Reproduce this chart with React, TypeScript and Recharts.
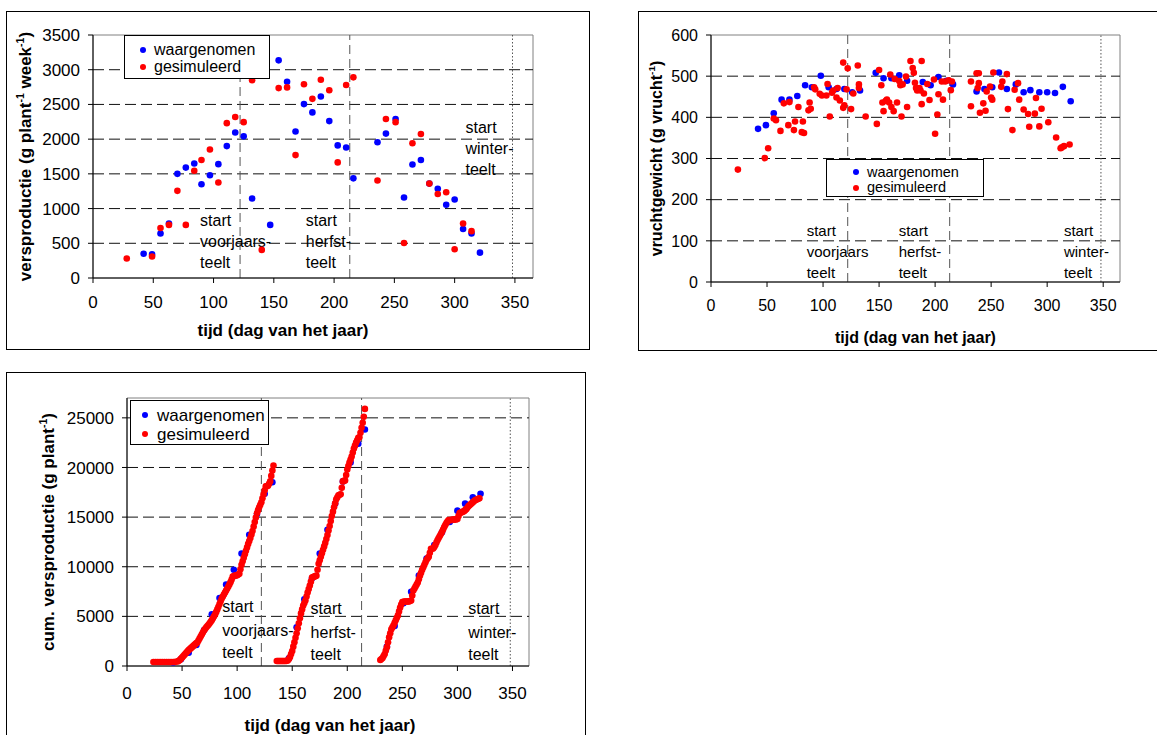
import React from 'react';
import { ScatterChart, Scatter, XAxis, YAxis, ReferenceLine, ReferenceArea } from 'recharts';

const FONT = '"Liberation Sans", Arial, Helvetica, sans-serif';
const BLUE = '#0000ff';
const RED = '#ff0000';

// shared axis ticks
const dayTicks = [0, 50, 100, 150, 200, 250, 300, 350];
const productionTicks = [0, 500, 1000, 1500, 2000, 2500, 3000, 3500];
const productionGrid = [500, 1000, 1500, 2000, 2500, 3000];
const weightTicks = [0, 100, 200, 300, 400, 500, 600];
const weightGrid = [100, 200, 300, 400, 500];
const cumulativeTicks = [0, 5000, 10000, 15000, 20000, 25000];
const cumulativeGrid = [5000, 10000, 15000, 20000, 25000];

// start of the growing seasons (day of year)
const seasonStarts = [122, 213];
const winterStart = 348;

// weekly production (g plant-1 week-1)
const prodObsDays = [42, 49, 56, 63, 70, 77, 84, 90, 97, 104, 111, 118, 125, 132, 147, 154, 161, 168, 175, 182, 189, 196, 203, 210, 216, 236, 243, 251, 258, 265, 272, 279, 286, 293, 300, 307, 314, 321];
const prodObsValues = [350, 340, 640, 785, 1500, 1590, 1650, 1350, 1480, 1640, 1900, 2095, 2040, 1145, 765, 3135, 2825, 2110, 2505, 2385, 2615, 2260, 1910, 1880, 1435, 1955, 2080, 2290, 1160, 1635, 1700, 1360, 1285, 1055, 1130, 705, 640, 365];
const prodSimDays = [28, 49, 56, 63, 70, 77, 84, 90, 97, 104, 111, 118, 125, 132, 140, 154, 161, 168, 175, 182, 189, 196, 203, 210, 216, 236, 243, 251, 258, 265, 272, 279, 286, 293, 300, 307, 314];
const prodSimValues = [280, 310, 720, 765, 1255, 765, 1545, 1700, 1850, 1375, 2230, 2320, 2245, 2850, 405, 2735, 2745, 1770, 2790, 2580, 2855, 2705, 1665, 2780, 2890, 1405, 2290, 2245, 505, 1940, 2075, 1360, 1210, 1235, 415, 785, 675];

// fruit weight (g vrucht-1)
const weightObsDays = [42, 49, 56, 63, 70, 77, 84, 90, 98, 105, 112, 119, 126, 133, 147, 154, 161, 168, 175, 189, 196, 203, 210, 216, 237, 244, 251, 257, 264, 272, 279, 285, 293, 300, 307, 314, 321];
const weightObsValues = [372, 381, 410, 443, 443, 452, 478, 473, 501, 473, 469, 469, 461, 465, 508, 495, 495, 502, 489, 486, 478, 498, 489, 480, 463, 469, 473, 509, 469, 480, 461, 466, 461, 461, 459, 474, 439];
const weightSimDays = [24, 48, 51, 56, 58, 62, 65, 69, 70, 74, 75, 78, 81, 82, 83, 87, 88, 89, 92, 93, 97, 99, 103, 104, 106, 108, 109, 112, 113, 115, 118, 118, 119, 121, 122, 125, 127, 131, 132, 132, 138, 148, 150, 152, 153, 154, 156, 157, 159, 160, 161, 163, 164, 166, 168, 169, 170, 171, 174, 175, 178, 180, 181, 182, 183, 184, 186, 187, 188, 188, 190, 193, 195, 199, 200, 202, 203, 206, 207, 209, 212, 214, 215, 232, 232, 237, 238, 239, 239, 240, 243, 245, 246, 249, 250, 251, 252, 259, 260, 264, 265, 269, 271, 274, 275, 279, 283, 284, 289, 290, 293, 295, 301, 308, 312, 313, 315, 320];
const weightSimValues = [273, 301, 325, 397, 393, 367, 434, 381, 437, 369, 390, 425, 364, 390, 362, 417, 436, 421, 473, 468, 457, 453, 453, 481, 402, 460, 465, 448, 471, 441, 533, 423, 429, 468, 519, 420, 458, 526, 480, 471, 402, 384, 515, 478, 436, 415, 440, 443, 436, 504, 425, 415, 493, 436, 488, 478, 402, 480, 499, 425, 537, 520, 508, 484, 471, 465, 471, 465, 537, 432, 458, 481, 442, 492, 360, 407, 456, 487, 443, 487, 490, 466, 487, 487, 427, 507, 471, 507, 483, 411, 434, 416, 463, 475, 448, 443, 509, 474, 487, 505, 420, 369, 467, 483, 443, 419, 408, 377, 409, 447, 378, 421, 388, 351, 325, 327, 330, 334];

// cumulative production (g plant-1)
const cumObsDays = [42, 49, 56, 63, 70, 77, 84, 90, 97, 104, 111, 118, 125, 132, 147, 154, 161, 168, 175, 182, 189, 196, 203, 210, 216, 236, 243, 251, 258, 265, 272, 279, 286, 293, 300, 307, 314, 321];
const cumObsValues = [350, 690, 1330, 2115, 3615, 5205, 6855, 8205, 9685, 11325, 13225, 15320, 17360, 18505, 765, 3900, 6725, 8835, 11340, 13725, 16340, 18600, 20510, 22390, 23825, 1955, 4035, 6325, 7485, 9120, 10820, 12180, 13465, 14520, 15650, 16355, 16995, 17360];

const cumSimDaysSpring = [24, 26, 28, 30, 32, 34, 36, 38, 40, 42, 44, 46, 47, 48, 49, 50, 51, 52, 53, 54, 55, 56, 57, 58, 59, 60, 61, 62, 63, 64, 65, 66, 67, 68, 69, 70, 71, 72, 73, 74, 75, 76, 77, 78, 79, 80, 81, 82, 83, 84, 85, 86, 87, 88, 89, 90, 91, 92, 93, 94, 95, 96, 97, 98, 99, 100, 101, 102, 103, 104, 105, 106, 107, 108, 109, 110, 111, 112, 113, 114, 115, 116, 117, 118, 119, 120, 121, 122, 123, 124, 125, 126, 127, 128, 129, 130, 131, 132, 133];
const cumSimValuesSpring = [400, 400, 400, 400, 400, 400, 400, 400, 400, 400, 420, 450, 520, 600, 720, 850, 980, 1100, 1230, 1350, 1480, 1600, 1700, 1800, 1900, 2000, 2100, 2200, 2300, 2400, 2600, 2800, 3000, 3200, 3400, 3600, 3750, 3900, 4020, 4150, 4300, 4450, 4620, 4800, 5000, 5200, 5450, 5700, 5970, 6250, 6520, 6800, 7000, 7200, 7400, 7600, 7800, 8000, 8220, 8450, 8720, 9000, 9050, 9100, 9120, 9150, 9220, 9300, 9750, 10200, 10550, 10900, 11250, 11600, 11950, 12300, 12600, 12900, 13250, 13600, 14050, 14500, 14950, 15400, 15700, 16000, 16250, 16500, 16900, 17300, 17700, 18100, 18120, 18150, 18350, 18600, 19150, 19700, 20200];

const cumSimDaysAutumn = [136, 137, 138, 139, 140, 141, 142, 143, 144, 145, 146, 147, 148, 149, 150, 151, 152, 153, 154, 155, 156, 157, 158, 159, 160, 161, 162, 163, 164, 165, 166, 167, 168, 169, 170, 171, 172, 173, 174, 175, 176, 177, 178, 179, 180, 181, 182, 183, 184, 185, 186, 187, 188, 189, 190, 191, 192, 193, 194, 195, 196, 197, 198, 199, 200, 201, 202, 203, 204, 205, 206, 207, 208, 209, 210, 211, 212, 213, 214, 215, 216];
const cumSimValuesAutumn = [500, 500, 500, 500, 500, 500, 500, 500, 500, 520, 550, 700, 900, 1200, 1500, 1950, 2400, 2850, 3300, 3800, 4300, 4800, 5300, 5700, 6100, 6350, 6600, 7000, 7400, 7750, 8100, 8500, 8900, 8950, 9000, 9050, 9100, 9700, 10300, 10650, 11000, 11350, 11700, 12050, 12400, 12800, 13200, 13650, 14100, 14600, 15100, 15550, 16000, 16400, 16800, 17000, 17200, 17250, 17300, 17950, 18600, 18650, 18700, 19250, 19800, 20150, 20500, 20800, 21100, 21500, 21900, 22200, 22500, 22750, 23000, 23050, 23500, 24000, 24500, 25100, 25900];

const cumSimDaysWinter = [230, 231, 232, 233, 234, 235, 236, 237, 238, 239, 240, 241, 242, 243, 244, 245, 246, 247, 248, 249, 250, 251, 252, 253, 254, 255, 256, 257, 258, 259, 260, 261, 262, 263, 264, 265, 266, 267, 268, 269, 270, 271, 272, 273, 274, 275, 276, 277, 278, 279, 280, 281, 282, 283, 284, 285, 286, 287, 288, 289, 290, 291, 292, 293, 294, 295, 296, 297, 298, 299, 300, 301, 302, 303, 304, 305, 306, 307, 308, 309, 310, 311, 312, 313, 314, 315, 316, 317, 318, 319, 320];
const cumSimValuesWinter = [600, 700, 800, 1000, 1200, 1550, 1900, 2400, 2900, 3300, 3700, 3900, 4100, 4350, 4600, 4850, 5100, 5500, 5900, 6200, 6450, 6480, 6500, 6500, 6500, 6500, 6500, 6550, 6600, 7100, 7600, 7800, 8000, 8200, 8400, 8750, 9100, 9400, 9700, 9950, 10200, 10450, 10700, 10850, 11000, 11400, 11800, 11820, 11850, 12000, 12200, 12450, 12700, 12900, 13100, 13300, 13500, 13750, 14000, 14200, 14400, 14550, 14700, 14700, 14700, 14720, 14750, 14750, 14750, 14780, 14800, 15100, 15400, 15450, 15500, 15550, 15600, 15700, 15800, 15950, 16100, 16200, 16300, 16400, 16500, 16600, 16700, 16750, 16800, 16850, 16900];

const toPoints = (days: number[], values: number[]) => days.map((d, i) => ({ x: d, y: values[i] }));

const dot = (color: string) => (props: any) =>
  props.cx == null ? <g /> : <circle cx={props.cx} cy={props.cy} r={3.3} fill={color} />;

const seasonText = (lines: string[], dx: number, rows: number[], fontSize: number) => (props: any) => {
  const vb = props.viewBox || {};
  const x = (vb.x || 0) + dx;
  const bottom = (vb.y || 0) + (vb.height || 0);
  return (
    <text fontFamily={FONT} fontSize={fontSize} fill="#000">
      {lines.map((s, i) => (
        <tspan key={i} x={x} y={bottom + rows[i] + fontSize * 0.35}>
          {s}
        </tspan>
      ))}
    </text>
  );
};

const xTitle = (dx: number, dy: number, fontSize: number) => (props: any) => {
  const vb = props.viewBox || {};
  const cx = (vb.x || 0) + (vb.width || 0) / 2 + dx;
  const cy = (vb.y || 0) + dy;
  return (
    <text x={cx} y={cy + fontSize * 0.35} textAnchor="middle" fontFamily={FONT} fontSize={fontSize} fontWeight="bold" fill="#000">
      tijd (dag van het jaar)
    </text>
  );
};

// parts: [text, isSuperscript]
const yTitle = (parts: [string, boolean][], dx: number, fontSize: number) => (props: any) => {
  const vb = props.viewBox || {};
  const cx = (vb.x || 0) + dx;
  const cy = (vb.y || 0) + (vb.height || 0) / 2;
  const shift = fontSize * 0.4;
  let raised = false;
  return (
    <text
      x={cx}
      y={cy + fontSize * 0.35}
      transform={`rotate(-90, ${cx}, ${cy})`}
      textAnchor="middle"
      fontFamily={FONT}
      fontSize={fontSize}
      fontWeight="bold"
      fill="#000"
    >
      {parts.map(([t, sup], i) => {
        let dy = 0;
        if (sup && !raised) dy = -shift;
        if (!sup && raised) dy = shift;
        raised = sup;
        return (
          <tspan key={i} dy={dy} fontSize={sup ? fontSize * 0.62 : fontSize}>
            {t}
          </tspan>
        );
      })}
    </text>
  );
};

function LegendBox({ left, top, width, height, rows, dotX, textX, fontSize }: any) {
  const items = [
    { label: 'waargenomen', color: BLUE },
    { label: 'gesimuleerd', color: RED },
  ];
  const h = Math.round(fontSize * 0.9);
  return (
    <div
      style={{
        position: 'absolute',
        left,
        top,
        width,
        height,
        boxSizing: 'border-box',
        border: '1px solid #000',
        background: '#fff',
        fontFamily: FONT,
        fontSize,
        color: '#000',
      }}
    >
      {items.map((it, i) => (
        <div key={it.label} style={{ position: 'absolute', left: 0, top: rows[i] - h / 2, height: h, width: '100%' }}>
          <div style={{ position: 'absolute', left: dotX - 3, top: h / 2 - 3, width: 6, height: 6, borderRadius: 3, background: it.color }} />
          <div style={{ position: 'absolute', left: textX, top: 0, lineHeight: `${h}px`, whiteSpace: 'nowrap' }}>{it.label}</div>
        </div>
      ))}
    </div>
  );
}

const gridLines = (values: number[]) =>
  values.map((v) => <ReferenceLine key={`g${v}`} y={v} stroke="#111" strokeDasharray="11 5" />);

const axisProps = (fontSize: number) => ({
  tick: { fill: '#000', fontSize, fontFamily: FONT },
  tickLine: { stroke: '#000' },
  axisLine: { stroke: '#000' },
  tickSize: 5,
  interval: 0 as const,
  allowDataOverflow: true,
});

function ProductionChart() {
  const fs = 17;
  return (
    <div style={{ position: 'absolute', left: 6, top: 11, width: 584, height: 339, border: '1px solid #000', boxSizing: 'border-box' }}>
      <ScatterChart width={582} height={337} margin={{ top: 23, right: 56, bottom: 0, left: 0 }}>
        <ReferenceArea x1={0} x2={365} y1={0} y2={3500} fill="none" stroke="#808080" />
        {gridLines(productionGrid)}
        <ReferenceLine x={seasonStarts[0]} stroke="#555" strokeDasharray="9 5" label={seasonText(['start', 'voorjaars-', 'teelt'], -40, [-58, -37, -16], 16)} />
        <ReferenceLine x={seasonStarts[1]} stroke="#555" strokeDasharray="9 5" label={seasonText(['start', 'herfst-', 'teelt'], -44, [-58, -37, -16], 16)} />
        <ReferenceLine x={winterStart} stroke="#555" strokeDasharray="1.5 2" label={seasonText(['start', 'winter-', 'teelt'], -47, [-151, -130, -109], 16)} />
        <XAxis type="number" dataKey="x" domain={[0, 365]} ticks={dayTicks} height={71} tickMargin={13} {...axisProps(fs)} label={xTitle(-30, 52, 17)} />
        <YAxis
          type="number"
          dataKey="y"
          domain={[0, 3500]}
          ticks={productionTicks}
          width={86}
          tickMargin={8}
          {...axisProps(fs)}
          label={yTitle([['versproductie (g plant', false], ['-1', true], [' week', false], ['-1', true], [')', false]], 18, 17)}
        />
        <Scatter data={toPoints(prodObsDays, prodObsValues)} fill={BLUE} shape={dot(BLUE)} isAnimationActive={false} />
        <Scatter data={toPoints(prodSimDays, prodSimValues)} fill={RED} shape={dot(RED)} isAnimationActive={false} />
      </ScatterChart>
    </div>
  );
}

function WeightChart() {
  const fs = 16;
  return (
    <div style={{ position: 'absolute', left: 638, top: 11, width: 530, height: 340, border: '1px solid #000', boxSizing: 'border-box' }}>
      <ScatterChart width={518} height={338} margin={{ top: 23, right: 37, bottom: 0, left: 0 }}>
        <ReferenceArea x1={0} x2={365} y1={0} y2={600} fill="none" stroke="#808080" />
        {gridLines(weightGrid)}
        <ReferenceLine x={seasonStarts[0]} stroke="#555" strokeDasharray="9 5" label={seasonText(['start', 'voorjaars', 'teelt'], -41, [-51, -30, -9], 15)} />
        <ReferenceLine x={seasonStarts[1]} stroke="#555" strokeDasharray="9 5" label={seasonText(['start', 'herfst-', 'teelt'], -51, [-51, -30, -9], 15)} />
        <ReferenceLine x={winterStart} stroke="#555" strokeDasharray="1.5 2" label={seasonText(['start', 'winter-', 'teelt'], -37, [-51, -30, -9], 15)} />
        <XAxis type="number" dataKey="x" domain={[0, 365]} ticks={dayTicks} height={68} tickMargin={13} {...axisProps(fs)} label={xTitle(0, 55, 16)} />
        <YAxis
          type="number"
          dataKey="y"
          domain={[0, 600]}
          ticks={weightTicks}
          width={72}
          tickMargin={8}
          {...axisProps(fs)}
          label={yTitle([['vruchtgewicht (g vrucht', false], ['-1', true], [')', false]], 17, 16)}
        />
        <Scatter data={toPoints(weightObsDays, weightObsValues)} fill={BLUE} shape={dot(BLUE)} isAnimationActive={false} />
        <Scatter data={toPoints(weightSimDays, weightSimValues)} fill={RED} shape={dot(RED)} isAnimationActive={false} />
      </ScatterChart>
    </div>
  );
}

function CumulativeChart() {
  const fs = 17;
  const simulated = [
    ...toPoints(cumSimDaysSpring, cumSimValuesSpring),
    ...toPoints(cumSimDaysAutumn, cumSimValuesAutumn),
    ...toPoints(cumSimDaysWinter, cumSimValuesWinter),
  ];
  return (
    <div style={{ position: 'absolute', left: 6, top: 372, width: 580, height: 380, border: '1px solid #000', boxSizing: 'border-box' }}>
      <ScatterChart width={578} height={378} margin={{ top: 25, right: 56, bottom: 0, left: 0 }}>
        <ReferenceArea x1={0} x2={365} y1={0} y2={27000} fill="none" stroke="#808080" />
        {gridLines(cumulativeGrid)}
        <ReferenceLine x={seasonStarts[0]} stroke="#555" strokeDasharray="9 5" label={seasonText(['start', 'voorjaars-', 'teelt'], -39, [-60, -36, -14], 16)} />
        <ReferenceLine x={seasonStarts[1]} stroke="#555" strokeDasharray="9 5" label={seasonText(['start', 'herfst-', 'teelt'], -51, [-58, -34, -12], 16)} />
        <ReferenceLine x={winterStart} stroke="#555" strokeDasharray="1.5 2" label={seasonText(['start', 'winter-', 'teelt'], -42, [-58, -34, -12], 16)} />
        <XAxis type="number" dataKey="x" domain={[0, 365]} ticks={dayTicks} height={85} tickMargin={16} {...axisProps(fs)} label={xTitle(2, 59, 17)} />
        <YAxis
          type="number"
          dataKey="y"
          domain={[0, 27000]}
          ticks={cumulativeTicks}
          width={120}
          tickMargin={8}
          {...axisProps(fs)}
          label={yTitle([['cum. versproductie (g plant', false], ['-1', true], [')', false]], 41, 17)}
        />
        <Scatter data={toPoints(cumObsDays, cumObsValues)} fill={BLUE} shape={dot(BLUE)} isAnimationActive={false} />
        <Scatter data={simulated} fill={RED} shape={dot(RED)} isAnimationActive={false} />
      </ScatterChart>
    </div>
  );
}

export default function App() {
  return (
    <div style={{ position: 'absolute', left: 0, top: 0, width: 1157, height: 735, overflow: 'hidden', background: '#fff' }}>
      <ProductionChart />
      <WeightChart />
      <CumulativeChart />
      <LegendBox left={124} top={35} width={146} height={44} rows={[13.5, 31]} dotX={17.7} textX={29} fontSize={16} />
      <LegendBox left={826} top={159} width={158} height={38} rows={[12, 27.5]} dotX={29} textX={40} fontSize={14.5} />
      <LegendBox left={130} top={400} width={139} height={45} rows={[14, 33.3]} dotX={14.3} textX={26} fontSize={17} />
    </div>
  );
}
